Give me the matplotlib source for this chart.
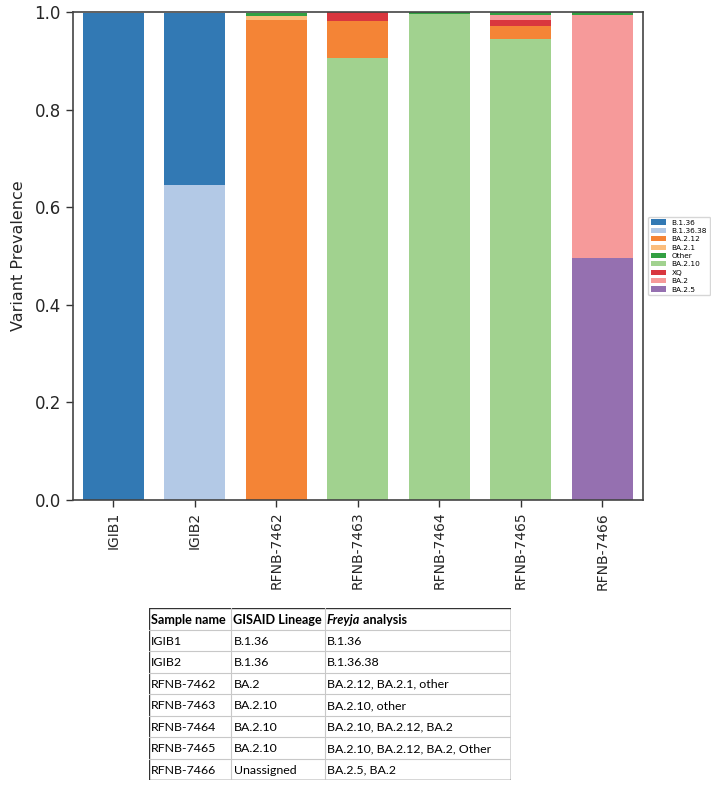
import numpy as np
import matplotlib
matplotlib.use('Agg')
import matplotlib.pyplot as plt
from matplotlib.patches import Rectangle

# samples and lineage abundances
samples = ['IGIB1', 'IGIB2', 'RFNB-7462', 'RFNB-7463', 'RFNB-7464', 'RFNB-7465', 'RFNB-7466']

b1_36     = [0.998, 0.353, 0.0,   0.0,   0.0,    0.0,   0.0]
b1_36_38  = [0.0,   0.645, 0.0,   0.0,   0.0,    0.0,   0.0]
ba2_12    = [0.0,   0.0,   0.984, 0.076, 0.0005, 0.026, 0.0]
ba2_1     = [0.0,   0.0,   0.008, 0.0,   0.0,    0.0,   0.0]
other     = [0.0,   0.0,   0.006, 0.0,   0.004,  0.008, 0.007]
ba2_10    = [0.0,   0.0,   0.0,   0.906, 0.995,  0.945, 0.0]
xq        = [0.0,   0.0,   0.0,   0.018, 0.0,    0.012, 0.0]
ba2       = [0.0,   0.0,   0.0,   0.0,   0.0005, 0.010, 0.497]
ba2_5     = [0.0,   0.0,   0.0,   0.0,   0.0,    0.0,   0.496]

lineages = {
	'B.1.36': (b1_36, '#3279b4'),
	'B.1.36.38': (b1_36_38, '#b3c9e6'),
	'BA.2.12': (ba2_12, '#f48436'),
	'BA.2.1': (ba2_1, '#fbbd7c'),
	'Other': (other, '#32a042'),
	'BA.2.10': (ba2_10, '#a1d28f'),
	'XQ': (xq, '#d9363e'),
	'BA.2': (ba2, '#f69a9a'),
	'BA.2.5': (ba2_5, '#9570b0'),
}
legend_order = ['B.1.36', 'B.1.36.38', 'BA.2.12', 'BA.2.1', 'Other', 'BA.2.10', 'XQ', 'BA.2', 'BA.2.5']
stack_order = ['B.1.36.38', 'B.1.36', 'BA.2.5', 'BA.2.10', 'BA.2.12', 'BA.2.1', 'XQ', 'BA.2', 'Other']

# table contents
table_header = ['Sample name', 'GISAID Lineage', 'Freyja analysis']
gisaid = ['B.1.36', 'B.1.36', 'BA.2', 'BA.2.10', 'BA.2.10', 'BA.2.10', 'Unassigned']
freyja = ['B.1.36', 'B.1.36.38', 'BA.2.12, BA.2.1, other', 'BA.2.10, other',
	'BA.2.10, BA.2.12, BA.2', 'BA.2.10, BA.2.12, BA.2, Other', 'BA.2.5, BA.2']

W, H = 711, 788
fig = plt.figure(figsize=(W / 100, H / 100), dpi=100)

ax = fig.add_axes([72.7 / W, 1 - 500 / H, (643 - 72.7) / W, (500 - 12) / H])
x = np.arange(len(samples))
bottom = np.zeros(len(samples))
handles = {}
for name in stack_order:
	vals, col = lineages[name]
	vals = np.array(vals)
	handles[name] = ax.bar(x, vals, 0.75, bottom=bottom, color=col, linewidth=0, label=name)
	bottom += vals

ax.set_xlim(-0.5, 6.5)
ax.set_ylim(0, 1)
ax.set_yticks([0, 0.2, 0.4, 0.6, 0.8, 1.0])
ax.set_xticks(x)
ax.set_xticklabels(samples, rotation=90, fontsize=10, color='#262626')
ax.tick_params(axis='y', labelsize=12, labelcolor='#262626')
ax.tick_params(color='#333333', length=5, width=1)
for s in ax.spines.values():
	s.set_color('#444444')
	s.set_linewidth(1.2)
ax.set_ylabel('Variant Prevalence', fontsize=11.5, color='#262626', labelpad=6)

leg = ax.legend([handles[n] for n in legend_order], legend_order, loc='center left',
	bbox_to_anchor=(1.005, 0.5), fontsize=5.3, frameon=True, borderaxespad=0.3,
	labelspacing=0.3)
leg.get_frame().set_edgecolor('#cccccc')

# table below the chart
tx0, tx1, ty0, ty1 = 149, 511, 608, 780
tab = fig.add_axes([tx0 / W, 1 - ty1 / H, (tx1 - tx0) / W, (ty1 - ty0) / H])
tab.set_xlim(tx0, tx1)
tab.set_ylim(ty1, ty0)
tab.axis('off')
col_edges = [tx0, 231, 325, tx1]
nrows = len(samples) + 1
rh = (ty1 - ty0) / nrows
for i in range(1, nrows):
	tab.plot([tx0, tx1], [ty0 + i * rh] * 2, color='#c8c8c8', lw=0.8)
for cx in col_edges[1:-1]:
	tab.plot([cx, cx], [ty0, ty1], color='#c8c8c8', lw=0.8)
tab.add_patch(Rectangle((tx0, ty0), tx1 - tx0, ty1 - ty0, fill=False, edgecolor='#333333', lw=1.0))

fam = 'Lato'
hs = 9.1
rs = 8.9
cy = ty0 + rh / 2 + 1
tab.text(col_edges[0] + 2, cy, table_header[0], fontsize=hs, fontweight='bold', family=fam, va='center')
tab.text(col_edges[1] + 2, cy, table_header[1], fontsize=hs, fontweight='bold', family=fam, va='center')
t = tab.text(col_edges[2] + 2, cy, 'Freyja', fontsize=hs, fontweight='bold', fontstyle='italic', family=fam, va='center')
tab.annotate(' analysis', xycoords=t, xy=(1, 0.5), va='center', fontsize=hs, fontweight='bold', family=fam)
for i in range(len(samples)):
	cy = ty0 + (i + 1.5) * rh + 1
	tab.text(col_edges[0] + 2, cy, samples[i], fontsize=rs, family=fam, va='center')
	tab.text(col_edges[1] + 3, cy, gisaid[i], fontsize=rs, family=fam, va='center')
	tab.text(col_edges[2] + 2, cy, freyja[i], fontsize=rs, family=fam, va='center')

plt.savefig('out.png', dpi=100)
